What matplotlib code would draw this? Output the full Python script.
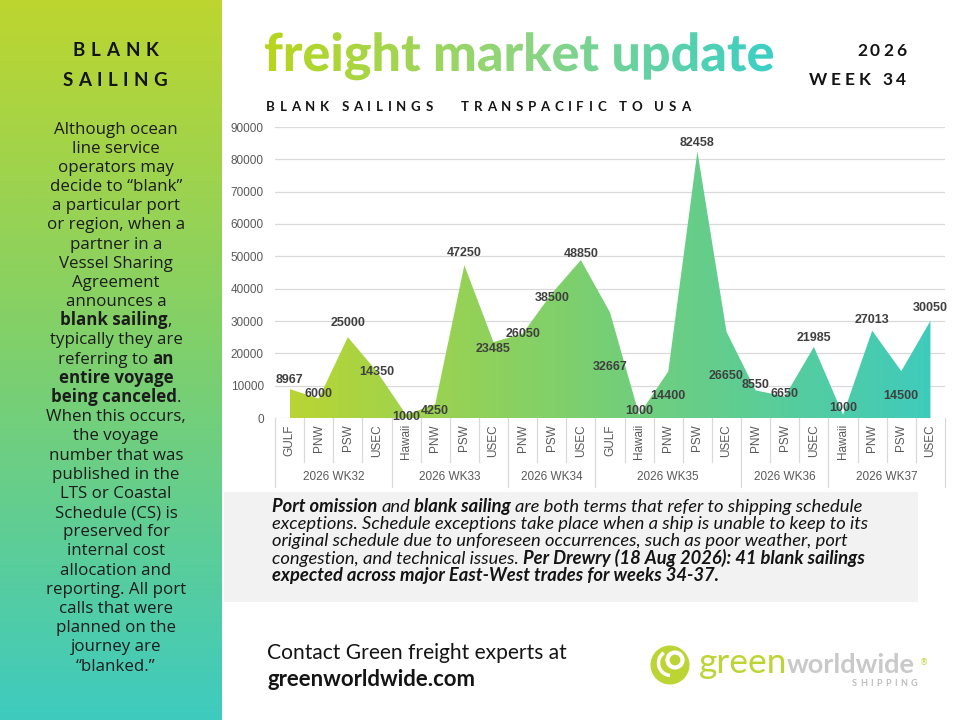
import numpy as np
import matplotlib
matplotlib.use("Agg")
import matplotlib.pyplot as plt
from matplotlib.colors import LinearSegmentedColormap
from matplotlib.font_manager import FontProperties
from matplotlib.patches import PathPatch, Rectangle, Circle, Arc
from matplotlib.textpath import TextPath, TextToPath
from matplotlib.transforms import Affine2D, blended_transform_factory

# data
weeks = ["2026 WK32", "2026 WK33", "2026 WK34", "2026 WK35", "2026 WK36", "2026 WK37"]
week_ports = [
    ["GULF", "PNW", "PSW", "USEC"],
    ["Hawaii", "PNW", "PSW", "USEC"],
    ["PNW", "PSW", "USEC"],
    ["GULF", "Hawaii", "PNW", "PSW", "USEC"],
    ["PNW", "PSW", "USEC"],
    ["Hawaii", "PNW", "PSW", "USEC"],
]
teu = [8967, 6000, 25000, 14350,
       1000, 4250, 47250, 23485,
       26050, 38500, 48850,
       32667, 1000, 14400, 82458, 26650,
       8550, 6650, 21985,
       1000, 27013, 14500, 30050]
y_ticks = list(range(0, 90001, 10000))

# where the data labels sit, pixels below (+) or above (-) their point
label_shift = [-9, -5, -14, 0, 2, 7, -12, 7, 0, 4, -6, 55, -4, 25, -8, 44,
               -5, -2, -9, -7, -11, 25, -13]

side_lines = [
    [("Although ocean", 0)],
    [("line service", 0)],
    [("operators may", 0)],
    [("decide to \u201cblank\u201d", 0)],
    [("a particular port", 0)],
    [("or region, when a", 0)],
    [("partner in a", 0)],
    [("Vessel Sharing", 0)],
    [("Agreement", 0)],
    [("announces a", 0)],
    [("blank sailing", 1), (",", 0)],
    [("typically they are", 0)],
    [("referring to ", 0), ("an", 1)],
    [("entire voyage", 1)],
    [("being canceled", 1), (".", 0)],
    [("When this occurs,", 0)],
    [("the voyage", 0)],
    [("number that was", 0)],
    [("published in the", 0)],
    [("LTS or Coastal", 0)],
    [("Schedule (CS) is", 0)],
    [("preserved for", 0)],
    [("internal cost", 0)],
    [("allocation and", 0)],
    [("reporting. All port", 0)],
    [("calls that were", 0)],
    [("planned on the", 0)],
    [("journey are", 0)],
    [("\u201cblanked.\u201d", 0)],
]

note_lines = [
    [("Port omission", 1), (" and ", 0), ("blank sailing", 1),
     (" are both terms that refer to shipping schedule", 0)],
    [("exceptions. Schedule exceptions take place when a ship is unable to keep to its", 0)],
    [("original schedule due to unforeseen occurrences, such as poor weather, port", 0)],
    [("congestion, and technical issues. ", 0), ("Per Drewry (18 Aug 2026): 41 blank sailings", 1)],
    [("expected across major East-West trades for weeks 34-37.", 1)],
]

LIME = "#bdd62f"
TEAL = "#3ecbbf"
GRID = "#d9d9d9"
TICK = "#595959"
INK = "#141414"

W, H, DPI = 960, 720, 100
t2p = TextToPath()


def width_px(s, fp):
    # advance width in pixels, spaces included
    w1 = t2p.get_text_width_height_descent("|" + s + "|", fp, ismath=False)[0]
    w0 = t2p.get_text_width_height_descent("||", fp, ismath=False)[0]
    return (w1 - w0) * DPI / 72


def fit(segs, fonts, target):
    w = sum(width_px(s, fonts[b]) for s, b in segs)
    k = target / w
    for f in fonts:
        f.set_size(f.get_size() * k)


def rich_line(ax, x, y, segs, fonts, ha="center", color=INK):
    widths = [width_px(s, fonts[b]) for s, b in segs]
    cur = x - sum(widths) / 2 if ha == "center" else x
    for (s, b), w in zip(segs, widths):
        lead = s[:len(s) - len(s.lstrip())]
        off = width_px(lead, fonts[b]) if lead else 0
        ax.text(cur + off, y, s.strip(), fontproperties=fonts[b], color=color,
                ha="left", va="baseline")
        cur += w


def spaced(ax, x0, x1, y, s, fp, color=INK):
    ws = [width_px(c, fp) for c in s]
    gap = (x1 - x0 - sum(ws)) / (len(s) - 1)
    cur = x0
    for c, w in zip(s, ws):
        if c != " ":
            ax.text(cur, y, c, fontproperties=fp, color=color, ha="left", va="baseline")
        cur += w + gap


fig = plt.figure(figsize=(W / DPI, H / DPI), dpi=DPI)
fig.patch.set_facecolor("white")

# page layer in pixel coordinates (y downwards)
bg = fig.add_axes([0, 0, 1, 1], zorder=0)
bg.axis("off")

side_cmap = LinearSegmentedColormap.from_list("side", [LIME, "#7dd06e", TEAL])
bg.imshow(np.linspace(0, 1, 256)[:, None], cmap=side_cmap, extent=[0, 222, 720, 0],
          aspect="auto", origin="upper", interpolation="bicubic")

bg.add_patch(Rectangle((224, 492), 694, 110, color="#f2f2f2", lw=0))

# gradient title
fp_title = FontProperties(family="Lato", weight="black")
tp = TextPath((0, 0), "freight market update", size=40, prop=fp_title)
ext = tp.get_extents()
k = (773 - 265) / ext.width
tr = Affine2D().translate(-ext.x0, 0).scale(k, -k).translate(265, 71)
clip = PathPatch(tp, transform=tr + bg.transData, fc="none", ec="none")
bg.add_patch(clip)
title_cmap = LinearSegmentedColormap.from_list("title", ["#b8d61c", "#8fd57f", "#3acfc6"])
timg = bg.imshow(np.linspace(0, 1, 256)[None, :], cmap=title_cmap,
                 extent=[265, 773, 95, 20], aspect="auto", interpolation="bicubic")
timg.set_clip_path(clip)

fp_head = FontProperties(family="Lato", weight="bold", size=12.5)
spaced(bg, 857, 906, 56, "2026", fp_head)
spaced(bg, 809, 906, 85, "WEEK 34", fp_head)
fp_sub = FontProperties(family="Lato", weight="bold", size=9.5)
spaced(bg, 266, 690, 111, "BLANK SAILINGS   TRANSPACIFIC TO USA", fp_sub)

fp_side_h = FontProperties(family="Lato", weight="bold", size=13.5)
spaced(bg, 73, 158, 56, "BLANK", fp_side_h)
spaced(bg, 63, 167, 86, "SAILING", fp_side_h)

side_fonts = [FontProperties(family="Open Sans", size=12),
              FontProperties(family="Open Sans", weight="bold", size=12)]
fit(side_lines[5], side_fonts, 138)
for i, segs in enumerate(side_lines):
    rich_line(bg, 116, 128 + i * 19.18 + 5.5, segs, side_fonts, color="#1c1c1c")

note_fonts = [FontProperties(family="Lato", style="italic", size=10.5),
              FontProperties(family="Lato", style="italic", weight="bold", size=10.5)]
fit(note_lines[0], note_fonts, 590)
for i, segs in enumerate(note_lines):
    rich_line(bg, 272, 507 + i * 17.2 + 5, segs, note_fonts, ha="left")

fp_contact = FontProperties(family="Lato", size=14)
fit([("Contact Green freight experts at", 0)], [fp_contact], 300)
bg.text(267, 659, "Contact Green freight experts at", fontproperties=fp_contact,
        color=INK, ha="left", va="baseline")
fp_url = FontProperties(family="Lato", weight="bold", size=14)
fit([("greenworldwide.com", 0)], [fp_url], 208)
bg.text(267, 686, "greenworldwide.com", fontproperties=fp_url, color=INK,
        ha="left", va="baseline")

# logo
bg.add_patch(Circle((670, 665), 19.5, color="#bcd535", lw=0))
bg.add_patch(Circle((675, 660), 7.5, fill=False, ec="white", lw=3))
bg.add_patch(Arc((671, 663), 25, 25, theta1=95, theta2=235, ec="white", lw=2.5))
fp_g = FontProperties(family="Lato", weight="normal", size=20)
fit([("green", 0)], [fp_g], 88)
bg.text(699, 673, "green", fontproperties=fp_g, color="#bcd535", ha="left", va="baseline")
fp_w = FontProperties(family="Lato", weight="bold", size=20)
fit([("worldwide", 0)], [fp_w], 128)
bg.text(787, 673, "worldwide", fontproperties=fp_w, color="#c9c9c9", ha="left", va="baseline")
bg.text(924, 663, "\u00ae", fontsize=6, color="#bcd535", ha="center", va="center")
spaced(bg, 852, 917, 686, "SHIPPING", FontProperties(family="Lato", weight="bold", size=6.5),
       color="#bdbdbd")

bg.set_xlim(0, W)
bg.set_ylim(H, 0)

# chart
ax = fig.add_axes([275 / W, 1 - 418 / H, 670 / W, (418 - 127) / H], zorder=1)
ax.patch.set_alpha(0)
x = np.arange(len(teu))
poly = ax.fill_between(x, teu, color="none", lw=0)
area_cmap = LinearSegmentedColormap.from_list("area", ["#b9d533", "#75cf76", "#3fcbbc"])
aimg = ax.imshow(np.linspace(0, 1, 256)[None, :], cmap=area_cmap,
                 extent=[0, len(teu) - 1, 0, 90000], aspect="auto",
                 interpolation="bicubic", zorder=2)
aimg.set_clip_path(poly.get_paths()[0], transform=ax.transData)

for i, v in enumerate(teu):
    ax.annotate(str(v), (i, v), xytext=(0, -label_shift[i]), textcoords="offset pixels",
                ha="center", va="center", fontsize=9, fontweight="bold",
                family="Liberation Sans", color="#404040", zorder=5)

ax.set_yticks(y_ticks)
ax.set_yticklabels([str(t) for t in y_ticks], family="Liberation Sans", fontsize=8.5,
                   color=TICK)
ax.tick_params(axis="y", length=0, pad=8)
ax.set_xticks([])
ax.yaxis.grid(True, color=GRID, lw=0.9)
ax.set_axisbelow(True)
for s in ax.spines.values():
    s.set_visible(False)

# two-level category axis
mix = blended_transform_factory(ax.transData, bg.transData)
ports = [p for grp in week_ports for p in grp]
for i, p in enumerate(ports):
    ax.text(i, 424, p, rotation=90, ha="center", va="top", transform=mix,
            family="Liberation Sans", fontsize=8.5, color=TICK)
edges = np.cumsum([0] + [len(g) for g in week_ports])
for b in range(len(ports) + 1):
    y_end = 487 if b in edges else 462
    ax.plot([b - 0.5, b - 0.5], [418, y_end], transform=mix, color=GRID, lw=0.9,
            clip_on=False)
for w, a, b in zip(weeks, edges[:-1], edges[1:]):
    ax.text((a + b - 1) / 2, 477, w, ha="center", va="center", transform=mix,
            family="Liberation Sans", fontsize=8.5, color=TICK)

ax.set_xlim(-0.5, len(teu) - 0.5)
ax.set_ylim(0, 90000)

fig.savefig("out.png", dpi=DPI)
